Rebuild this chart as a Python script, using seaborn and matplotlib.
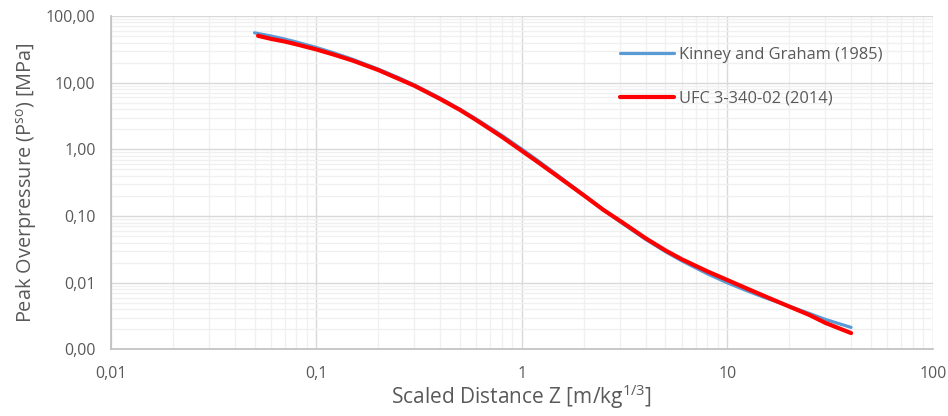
import matplotlib
matplotlib.use("Agg")
import matplotlib.pyplot as plt
import seaborn as sns
import pandas as pd
from matplotlib.ticker import FixedLocator, LogLocator, NullFormatter

# Kinney and Graham (1985)
kg_z = [0.05, 0.06, 0.07, 0.08, 0.1, 0.12, 0.15, 0.2, 0.25, 0.3, 0.4, 0.5, 0.6, 0.8, 1,
        1.2, 1.5, 2, 2.5, 3, 4, 5, 6, 8, 10, 12, 15, 20, 25, 30, 40]
kg_p = [56.0, 50.2, 45.2, 40.8, 33.7, 28.4, 22.5, 16.0, 12.0, 9.25, 5.89, 4.0, 2.86, 1.62, 1.01,
        0.675, 0.406, 0.208, 0.124, 0.0823, 0.0448, 0.0292, 0.0213, 0.0136, 0.00998,
        0.00792, 0.00607, 0.00445, 0.00348, 0.00282, 0.00214]

# UFC 3-340-02 (2014)
ufc_z = [0.052, 0.06, 0.07, 0.08, 0.1, 0.12, 0.15, 0.2, 0.25, 0.3, 0.4, 0.5, 0.6, 0.8, 1,
         1.2, 1.5, 2, 2.5, 3, 4, 5, 6, 8, 10, 12, 15, 20, 25, 30, 40]
ufc_p = [50.5, 45.5, 41.5, 37.6, 31.5, 26.7, 21.5, 15.5, 11.5, 9.0, 5.7, 3.9, 2.75, 1.54, 0.95,
         0.64, 0.39, 0.205, 0.123, 0.085, 0.0465, 0.0305, 0.0225, 0.0148, 0.0110,
         0.0086, 0.0064, 0.0044, 0.0033, 0.0025, 0.00176]

x_ticks = [0.01, 0.1, 1, 10, 100]
x_labels = ["0,01", "0,1", "1", "10", "100"]
y_ticks = [0.001, 0.01, 0.1, 1, 10, 100]
y_labels = ["0,00", "0,01", "0,10", "1,00", "10,00", "100,00"]

kg = pd.DataFrame({"Z": kg_z, "P": kg_p})
ufc = pd.DataFrame({"Z": ufc_z, "P": ufc_p})

sns.set_style("white")
plt.rcParams["font.family"] = ["Open Sans", "DejaVu Sans"]
plt.rcParams["mathtext.fontset"] = "custom"
plt.rcParams["mathtext.rm"] = "Open Sans"
plt.rcParams["mathtext.it"] = "Open Sans:italic"

grey = "#595959"

fig = plt.figure(figsize=(9.48, 4.16), dpi=100)
ax = fig.add_axes([0.117, 0.160, 0.867, 0.8015])

sns.lineplot(data=kg, x="Z", y="P", ax=ax, color="#5B9BD5", linewidth=2.3,
             label="Kinney and Graham (1985)", zorder=3)
sns.lineplot(data=ufc, x="Z", y="P", ax=ax, color="#FF0000", linewidth=3.0,
             label="UFC 3-340-02 (2014)", zorder=4)

ax.set_xscale("log")
ax.set_yscale("log")
ax.set_xlim(0.01, 100)
ax.set_ylim(0.001, 100)

ax.xaxis.set_major_locator(FixedLocator(x_ticks))
ax.set_xticklabels(x_labels)
ax.yaxis.set_major_locator(FixedLocator(y_ticks))
ax.set_yticklabels(y_labels)
ax.xaxis.set_minor_locator(LogLocator(base=10, subs=range(2, 10), numticks=20))
ax.yaxis.set_minor_locator(LogLocator(base=10, subs=range(2, 10), numticks=20))
ax.xaxis.set_minor_formatter(NullFormatter())
ax.yaxis.set_minor_formatter(NullFormatter())

ax.grid(True, which="major", color="#D9D9D9", linewidth=1.0, zorder=0)
ax.grid(True, which="minor", color="#F0F0F0", linewidth=1.0, zorder=0)
ax.set_axisbelow(True)

for s in ["top", "right"]:
    ax.spines[s].set_visible(False)
for s in ["left", "bottom"]:
    ax.spines[s].set_color("#BFBFBF")
    ax.spines[s].set_linewidth(1.2)

ax.tick_params(axis="x", which="major", direction="out", length=5, color="#BFBFBF",
               labelsize=11.5, labelcolor=grey, pad=7)
ax.tick_params(axis="y", which="major", length=0, labelsize=11.5, labelcolor=grey, pad=11)
ax.tick_params(which="minor", length=0)

ax.set_xlabel(r"Scaled Distance Z [m/kg$^{1/3}$]", fontsize=15, color=grey, labelpad=0)
ax.set_ylabel(r"Peak Overpressure (P$^{\mathrm{so}}$) [MPa]", fontsize=14.3, color=grey, labelpad=5)

leg = ax.legend(loc="upper left", bbox_to_anchor=(0.619, 0.908), frameon=False,
                fontsize=11.8, handlelength=3.3, handletextpad=0.3, labelspacing=1.7,
                borderpad=0, borderaxespad=0)
for t in leg.get_texts():
    t.set_color(grey)

fig.savefig("out.png", dpi=100)
